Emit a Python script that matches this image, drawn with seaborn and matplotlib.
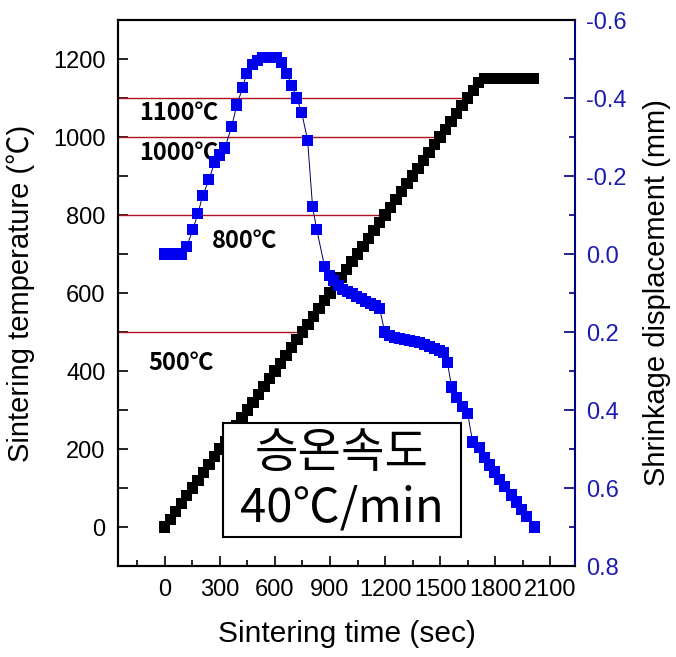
import matplotlib
matplotlib.use("Agg")
import matplotlib.pyplot as plt
import seaborn as sns
from matplotlib.patches import Rectangle
from matplotlib.ticker import MultipleLocator

# Sintering temperature profile (black squares)
time_temp = [0, 30, 60, 90, 120, 150, 180, 210, 240, 270,
             300, 330, 360, 390, 420, 450, 480, 510, 540, 570,
             600, 630, 660, 690, 720, 750, 780, 810, 840, 870,
             900, 930, 960, 990, 1020, 1050, 1080, 1110, 1140, 1170,
             1200, 1230, 1260, 1290, 1320, 1350, 1380, 1410, 1440, 1470,
             1500, 1530, 1560, 1590, 1620, 1650, 1680, 1710, 1740, 1770,
             1800, 1830, 1860, 1890, 1920, 1950, 1980, 2010]
temperature = [0, 20, 40, 60, 80, 100, 120, 140, 160, 180,
               200, 220, 240, 260, 280, 300, 320, 340, 360, 380,
               400, 420, 440, 460, 480, 500, 520, 540, 560, 580,
               600, 620, 640, 660, 680, 700, 720, 740, 760, 780,
               800, 820, 840, 860, 880, 900, 920, 940, 960, 980,
               1000, 1020, 1040, 1060, 1080, 1100, 1120, 1140, 1150, 1150,
               1150, 1150, 1150, 1150, 1150, 1150, 1150, 1150]

# Shrinkage displacement (blue squares)
time_disp = [0, 30, 60, 90, 120, 152, 180, 207, 240, 272,
             300, 327, 365, 392, 425, 446, 480, 507, 534, 572,
             610, 637, 664, 691, 719, 746, 778, 805, 828, 871,
             895, 920, 945, 970, 995, 1020, 1045, 1070, 1095, 1120,
             1145, 1171, 1198, 1225, 1252, 1280, 1307, 1334, 1361, 1388,
             1416, 1443, 1470, 1497, 1520, 1540, 1563, 1590, 1622, 1650,
             1677, 1715, 1742, 1769, 1797, 1824, 1851, 1889, 1917, 1944,
             1971, 2015]
displacement = [0.0, 0.0, 0.0, 0.0, -0.02, -0.062, -0.103, -0.151, -0.19, -0.236,
                -0.254, -0.272, -0.328, -0.382, -0.428, -0.464, -0.485, -0.497, -0.505, -0.505,
                -0.505, -0.49, -0.464, -0.433, -0.40, -0.362, -0.292, -0.121, -0.062, 0.033,
                0.055, 0.068, 0.080, 0.090, 0.096, 0.101, 0.108, 0.115, 0.122, 0.128,
                0.133, 0.140, 0.200, 0.208, 0.213, 0.216, 0.219, 0.222, 0.225, 0.228,
                0.232, 0.237, 0.243, 0.248, 0.253, 0.279, 0.341, 0.369, 0.392, 0.408,
                0.482, 0.497, 0.521, 0.541, 0.559, 0.579, 0.597, 0.618, 0.636, 0.656,
                0.674, 0.700]

# reference temperature levels
ref_temps = [1100, 1000, 800, 500]
ref_labels = ["1100℃", "1000℃", "800℃", "500℃"]
ref_label_pos = [(-138, 1062), (-138, 960), (258, 733), (-90, 421)]

sns.set_style("ticks")
plt.rcParams['font.family'] = ['Liberation Sans', 'Noto Sans CJK KR', 'DejaVu Sans']
plt.rcParams['axes.unicode_minus'] = False
plt.rcParams['text.color'] = 'black'
plt.rcParams['axes.labelcolor'] = 'black'
plt.rcParams['xtick.color'] = 'black'
plt.rcParams['ytick.color'] = 'black'
plt.rcParams['axes.edgecolor'] = 'black'

fig = plt.figure(figsize=(6.76, 6.57), dpi=100)
ax = fig.add_axes([0.1746, 0.1385, 0.676, 0.831])
ax2 = ax.twinx()

# red guide lines, from the left spine to the temperature ramp
for temp in ref_temps:
    t_hit = time_temp[temperature.index(temp)]
    ax.plot([-300, t_hit], [temp, temp], color="#B01020", lw=1.0, zorder=1)

sns.scatterplot(x=time_temp, y=temperature, ax=ax, marker="s", s=66,
                color="black", edgecolor="none", zorder=3)

sns.lineplot(x=time_disp, y=displacement, ax=ax2, color="#000060", lw=0.7,
             sort=False, zorder=2)
sns.scatterplot(x=time_disp, y=displacement, ax=ax2, marker="s", s=64,
                color="#0000F0", edgecolor="none", zorder=3)

# axes ranges / ticks
ax.set_xlim(-255, 2235)
ax.set_ylim(-100, 1300)
ax.set_xticks(range(0, 2101, 300))
ax.xaxis.set_minor_locator(MultipleLocator(150))
ax.set_yticks(range(0, 1201, 200))
ax.yaxis.set_minor_locator(MultipleLocator(100))
ax2.set_ylim(0.8, -0.6)
ax2.set_yticks([-0.6, -0.4, -0.2, 0.0, 0.2, 0.4, 0.6, 0.8])
ax2.set_yticklabels(["-0.6", "-0.4", "-0.2", "0.0", "0.2", "0.4", "0.6", "0.8"])
ax2.yaxis.set_minor_locator(MultipleLocator(0.1))

ax.tick_params(axis="both", which="major", direction="in", length=7.5, width=1.2,
               labelsize=17, pad=9, right=False, top=False, colors="black")
ax.tick_params(axis="x", which="minor", direction="in", length=4, width=1.2, top=False)
ax.tick_params(axis="y", which="minor", direction="in", length=7.5, width=1.2, right=False)
ax2.tick_params(axis="y", which="major", direction="in", length=8, width=1.2,
                labelsize=17, colors="#000080", labelcolor="#1C1CB0", pad=8)
ax2.tick_params(axis="y", which="minor", direction="in", length=4, width=1.2,
                colors="#000080")

for sp in ["left", "bottom", "top"]:
    ax.spines[sp].set_linewidth(1.5)
    ax2.spines[sp].set_linewidth(1.5)
ax2.spines["right"].set_color("#000080")
ax2.spines["right"].set_linewidth(1.5)
ax.spines["right"].set_visible(False)

ax.set_xlabel("Sintering time (sec)", fontsize=21.5, labelpad=14)
ax.set_ylabel("Sintering temperature (℃)", fontsize=21, labelpad=13)
ax2.set_ylabel("Shrinkage displacement (mm)", fontsize=21, labelpad=12)

for (lx, ly), txt in zip(ref_label_pos, ref_labels):
    ax.text(lx, ly, txt, fontsize=17, fontweight="bold", va="center", ha="left",
            family=["Noto Sans CJK KR", "DejaVu Sans"], zorder=5)

# heating-rate box
ax.add_patch(Rectangle((316, -26), 1300, 293, fc="white", ec="black", lw=1.5,
                       zorder=9))
ax.text(966, 188, "승온속도", fontsize=34, ha="center", va="center",
        family=["Noto Sans CJK KR", "DejaVu Sans"], zorder=10)
ax.text(966, 48, "40℃/min", fontsize=34, ha="center", va="center",
        family=["Noto Sans CJK KR", "DejaVu Sans"], zorder=10)

fig.savefig("out.png", dpi=100)
